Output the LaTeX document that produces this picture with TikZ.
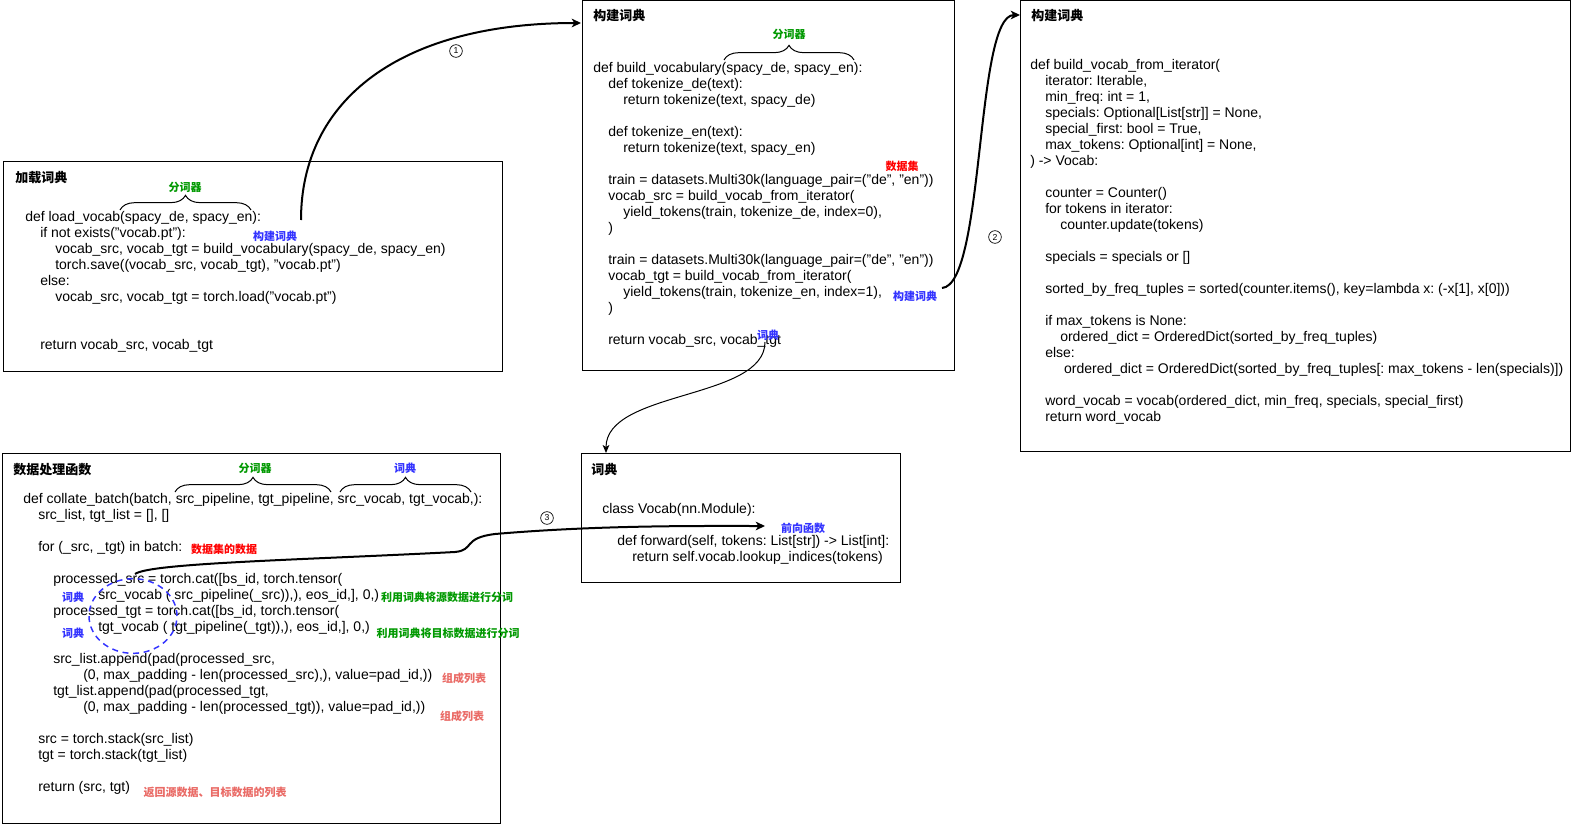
\documentclass[tikz,border=0pt]{standalone}
\usepackage{fontspec}
\setmainfont{Liberation Sans}
\newfontfamily\cjk{Noto Sans CJK SC}
\usepackage{xcolor}
\usetikzlibrary{arrows.meta, fit, decorations.pathreplacing}
\definecolor{lblgreen}{HTML}{009900}
\definecolor{lblblue}{HTML}{3333FF}
\definecolor{lblred}{HTML}{FF0000}
\definecolor{lblsalmon}{HTML}{EA6B66}
\newcommand{\tb}{\hspace*{11.25pt}}

\begin{document}
\begin{tikzpicture}[x=0.75pt, y=-0.75pt,
  box/.style={draw, inner sep=0pt, line width=0.75pt},
  boxtitle/.style={anchor=west, inner sep=0pt, font=\cjk\bfseries\fontsize{9.75}{12}\selectfont},
  code/.style={anchor=north west, align=left, inner sep=0pt, font=\fontsize{10.5}{12}\selectfont\frenchspacing},
  lbl/.style={inner sep=0pt, font=\cjk\bfseries\fontsize{8.25}{10}\selectfont},
  numcirc/.style={draw, circle, inner sep=0pt, minimum size=9.5pt, line width=0.5pt, font=\fontsize{6.5}{7}\selectfont},
  brc/.style={decorate, decoration={brace, amplitude=11pt}, line width=0.75pt},
  bigarrow/.style={line width=1.5pt, -{Stealth[length=7pt, width=6.5pt, inset=2pt]}},
  thinarrow/.style={line width=0.75pt, -{Stealth[length=6pt, width=5pt, inset=1.5pt]}}]
\path[use as bounding box, fill=white] (0,0) rectangle (1580,824);

% boxes
\coordinate (la) at (3,161);    \coordinate (lb) at (502,371);
\coordinate (ba) at (582,1);    \coordinate (bb) at (954,370);
\coordinate (ca) at (1020,1);   \coordinate (cb) at (1570,451);
\coordinate (da) at (581,453);  \coordinate (db) at (900,582);
\coordinate (ea) at (2,453);    \coordinate (eb) at (500,823);
\node[box, fit=(la)(lb)] (load) {};
\node[box, fit=(ba)(bb)] (build) {};
\node[box, fit=(ca)(cb)] (iter) {};
\node[box, fit=(da)(db)] (vocab) {};
\node[box, fit=(ea)(eb)] (collate) {};

% titles
\node[boxtitle] (loadtitle) at (15,178) {加载词典};
\node[boxtitle] (buildtitle) at (593,16) {构建词典};
\node[boxtitle] (itertitle) at (1031,16) {构建词典};
\node[boxtitle] (vocabtitle) at (591,470) {词典};
\node[boxtitle] (collatetitle) at (13,470) {数据处理函数};

% code
\node[code] (loadcode) at (25,211) {def load\_vocab(spacy\_de, spacy\_en):\\
\tb if not exists("vocab.pt"):\\
\tb\tb vocab\_src, vocab\_tgt = build\_vocabulary(spacy\_de, spacy\_en)\\
\tb\tb torch.save((vocab\_src, vocab\_tgt), "vocab.pt")\\
\tb else:\\
\tb\tb vocab\_src, vocab\_tgt = torch.load("vocab.pt")\\
\strut\\
\strut\\
\tb return vocab\_src, vocab\_tgt};

\node[code] (buildcode) at (593,62) {def build\_vocabulary(spacy\_de, spacy\_en):\\
\tb def tokenize\_de(text):\\
\tb\tb return tokenize(text, spacy\_de)\\
\strut\\
\tb def tokenize\_en(text):\\
\tb\tb return tokenize(text, spacy\_en)\\
\strut\\
\tb train = datasets.Multi30k(language\_pair=("de", "en"))\\
\tb vocab\_src = build\_vocab\_from\_iterator(\\
\tb\tb yield\_tokens(train, tokenize\_de, index=0),\\
\tb )\\
\strut\\
\tb train = datasets.Multi30k(language\_pair=("de", "en"))\\
\tb vocab\_tgt = build\_vocab\_from\_iterator(\\
\tb\tb yield\_tokens(train, tokenize\_en, index=1),\\
\tb )\\
\strut\\
\tb return vocab\_src, vocab\_tgt};

\node[code] (itercode) at (1030,59) {def build\_vocab\_from\_iterator(\\
\tb iterator: Iterable,\\
\tb min\_freq: int = 1,\\
\tb specials: Optional[List[str]] = None,\\
\tb special\_first: bool = True,\\
\tb max\_tokens: Optional[int] = None,\\
) -> Vocab:\\
\strut\\
\tb counter = Counter()\\
\tb for tokens in iterator:\\
\tb\tb counter.update(tokens)\\
\strut\\
\tb specials = specials or []\\
\strut\\
\tb sorted\_by\_freq\_tuples = sorted(counter.items(), key=lambda x: (-x[1], x[0]))\\
\strut\\
\tb if max\_tokens is None:\\
\tb\tb ordered\_dict = OrderedDict(sorted\_by\_freq\_tuples)\\
\tb else:\\
\tb\tb\ ordered\_dict = OrderedDict(sorted\_by\_freq\_tuples[: max\_tokens - len(specials)])\\
\strut\\
\tb word\_vocab = vocab(ordered\_dict, min\_freq, specials, special\_first)\\
\tb return word\_vocab};

\node[code] (vocabcode) at (602,503) {class Vocab(nn.Module):\\
\strut\\
\tb def forward(self, tokens: List[str]) -> List[int]:\\
\tb\tb return self.vocab.lookup\_indices(tokens)};

\node[code] (collatecode) at (23,493) {def collate\_batch(batch, src\_pipeline, tgt\_pipeline, src\_vocab, tgt\_vocab,):\\
\tb src\_list, tgt\_list = [], []\\
\strut\\
\tb for (\_src, \_tgt) in batch:\\
\strut\\
\tb\tb processed\_src = torch.cat([bs\_id, torch.tensor(\\
\tb\tb\tb\tb\tb src\_vocab ( src\_pipeline(\_src)),), eos\_id,], 0,)\\
\tb\tb processed\_tgt = torch.cat([bs\_id, torch.tensor(\\
\tb\tb\tb\tb\tb tgt\_vocab ( tgt\_pipeline(\_tgt)),), eos\_id,], 0,)\\
\strut\\
\tb\tb src\_list.append(pad(processed\_src,\\
\tb\tb\tb\tb (0, max\_padding - len(processed\_src),), value=pad\_id,))\\
\tb\tb tgt\_list.append(pad(processed\_tgt,\\
\tb\tb\tb\tb (0, max\_padding - len(processed\_tgt)), value=pad\_id,))\\
\strut\\
\tb src = torch.stack(src\_list)\\
\tb tgt = torch.stack(tgt\_list)\\
\strut\\
\tb return (src, tgt)};

% braces
\draw[brc] (120,210) -- (251,210);
\draw[brc] (724,60) -- (854,60);
\draw[brc] (175,492) -- (331,492);
\draw[brc] (340,492) -- (471,492);

% labels
\node[lbl, lblgreen] (tokA) at (185,187) {分词器};
\node[lbl, lblblue] (mkA) at (275,236) {构建词典};
\node[lbl, lblgreen] (tokB) at (789,34) {分词器};
\node[lbl, lblred] (dataB) at (902,166) {数据集};
\node[lbl, lblblue] (mkB) at (915,296) {构建词典};
\node[lbl, lblblue] (dictB) at (768,335) {词典};
\node[lbl, lblblue] (fwdD) at (803,528) {前向函数};
\node[lbl, lblgreen] (tokE) at (255,468) {分词器};
\node[lbl, lblblue] (dictE) at (405,468) {词典};
\node[lbl, lblred] (dataE) at (224,549) {数据集的数据};
\node[lbl, lblblue] (dictE1) at (73,597) {词典};
\node[lbl, lblblue] (dictE2) at (73,633) {词典};
\node[lbl, lblgreen] (segE1) at (447,597) {利用词典将源数据进行分词};
\node[lbl, lblgreen] (segE2) at (448,633) {利用词典将目标数据进行分词};
\node[lbl, lblsalmon] (listE1) at (464,678) {组成列表};
\node[lbl, lblsalmon] (listE2) at (462,716) {组成列表};
\node[lbl, lblsalmon] (retE) at (215,792) {返回源数据、目标数据的列表};

% dashed ring
\draw[lblblue, dashed, line width=1.1pt, dash pattern=on 4.5pt off 3.5pt] (133,616) ellipse [x radius=33pt, y radius=28pt];

% connectors
\coordinate (s1) at (301,220);
\coordinate (e1) at (581,23);
\coordinate (s2) at (942,288);
\coordinate (e2) at (1020,15);
\coordinate (s4) at (765,342);
\coordinate (e4) at (606,453);
\coordinate (s3) at (135,574);
\coordinate (e3) at (765,526);
\draw[bigarrow] (s1) .. controls (301,100) and (400,23) .. (e1);
\draw[bigarrow] (s2) .. controls (985,285) and (975,15) .. (e2);
\draw[thinarrow] (s4) .. controls (765,400) and (606,390) .. (e4);
\draw[bigarrow] (s3) .. controls (150,563) and (300,560) .. (455,552) .. controls (475,550) and (462,538) .. (495,534) .. controls (600,525) and (700,526) .. (e3);

\node[numcirc] (n1) at (456,51) {1};
\node[numcirc] (n2) at (995,237) {2};
\node[numcirc] (n3) at (547,518) {3};
\end{tikzpicture}
\end{document}
